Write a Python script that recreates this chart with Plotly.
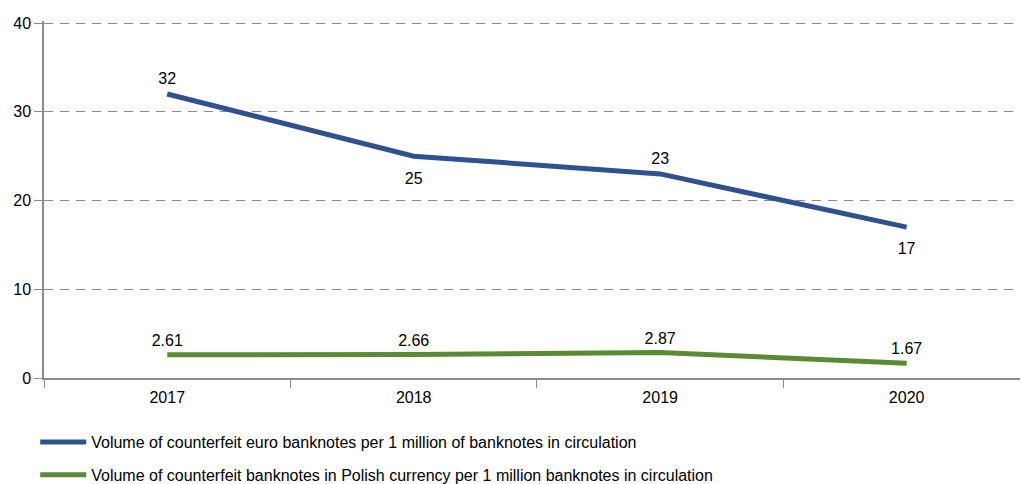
import plotly.graph_objects as go

years = ["2017", "2018", "2019", "2020"]
euro_counterfeits = [32, 25, 23, 17]
pln_counterfeits = [2.61, 2.66, 2.87, 1.67]
euro_label_pos = ["top center", "bottom center", "top center", "bottom center"]
pln_label_pos = ["top center"] * 4

euro_name = "Volume of counterfeit euro banknotes per 1 million of banknotes in circulation"
pln_name = "Volume of counterfeit banknotes in Polish currency per 1 million banknotes in circulation"

BLUE = "#2F5190"
GREEN = "#5B8A35"
AXIS = "#8c8c8c"
FONT = "Arial, Liberation Sans, sans-serif"

# invisible markers only set the label offset from the line
euro_marker_sizes = [8, 24, 8, 22]
pln_marker_sizes = [6, 6, 6, 6]

fig = go.Figure()
fig.add_trace(go.Scatter(
    x=years, y=euro_counterfeits, name=euro_name, mode="lines+markers+text",
    line=dict(color=BLUE, width=5),
    marker=dict(size=euro_marker_sizes, color="rgba(0,0,0,0)",
                line=dict(width=0, color="rgba(0,0,0,0)")),
    text=[str(v) for v in euro_counterfeits], textposition=euro_label_pos,
    textfont=dict(size=16, color="#000000", family=FONT),
    legendgroup="euro", cliponaxis=False,
))
fig.add_trace(go.Scatter(
    x=years, y=pln_counterfeits, name=pln_name, mode="lines+markers+text",
    line=dict(color=GREEN, width=5),
    marker=dict(size=pln_marker_sizes, color="rgba(0,0,0,0)",
                line=dict(width=0, color="rgba(0,0,0,0)")),
    text=[f"{v:.2f}" for v in pln_counterfeits], textposition=pln_label_pos,
    textfont=dict(size=16, color="#000000", family=FONT),
    legendgroup="pln", cliponaxis=False,
))

fig.update_layout(
    width=1021, height=484,
    margin=dict(l=44, r=1, t=21, b=106, autoexpand=False),
    plot_bgcolor="white", paper_bgcolor="white",
    font=dict(family=FONT, size=16, color="#000000"),
    showlegend=True,
    legend=dict(
        orientation="v", x=-0.009, xanchor="left",
        y=-0.132, yanchor="top",
        font=dict(size=16, family=FONT, color="#000000"),
        traceorder="grouped", tracegroupgap=9,
        itemwidth=46, bgcolor="rgba(0,0,0,0)",
    ),
    xaxis=dict(
        type="category", range=[-0.5, 3.46],
        showline=True, linecolor=AXIS, linewidth=1.5,
        ticks="outside", tickson="boundaries", ticklen=8, tickcolor=AXIS,
        ticklabelstandoff=4,
        showgrid=False, zeroline=False,
        tickfont=dict(size=16, family=FONT),
    ),
    yaxis=dict(
        range=[0, 40.23], tickvals=[0, 10, 20, 30, 40],
        showline=True, linecolor=AXIS, linewidth=1.5,
        ticks="outside", ticklen=8, tickcolor=AXIS,
        showgrid=True, gridcolor=AXIS, griddash="9px,7px", gridwidth=1.2,
        zeroline=False,
        tickfont=dict(size=16, family=FONT),
    ),
)

fig.write_html("out.html")
